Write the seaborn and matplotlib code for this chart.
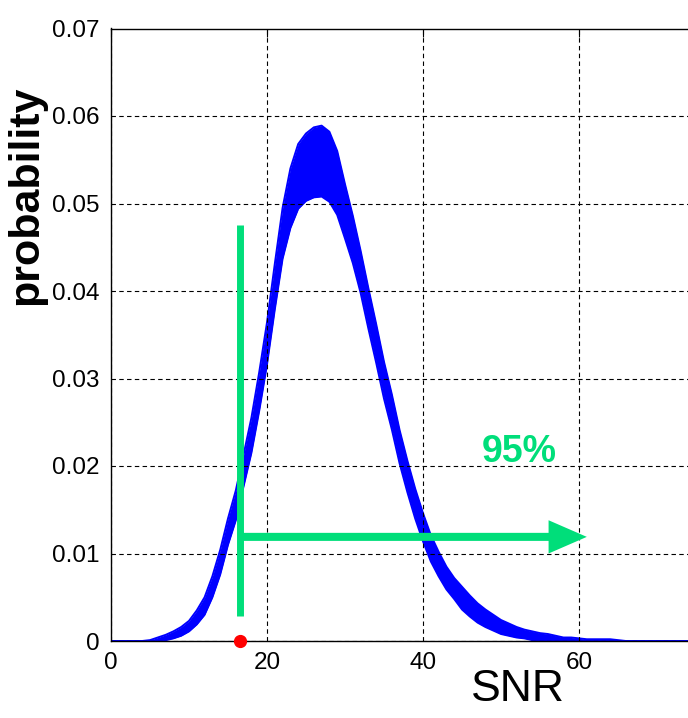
import matplotlib
matplotlib.use("Agg")
import matplotlib.pyplot as plt
from matplotlib import font_manager as fm
import seaborn as sns

# SNR grid and the lower / upper envelope of the noisy probability curve
snr = [0, 4, 5, 6, 7, 8, 9, 10, 11, 12, 13, 14, 15, 16, 17, 18, 19, 20,
       21, 22, 23, 24, 25, 26, 27, 28, 29, 30, 31, 32, 33, 34, 35, 36, 37,
       38, 39, 40, 41, 42, 43, 44, 45, 46, 47, 48, 49, 50, 51, 52, 53, 54,
       55, 56, 57, 58, 59, 60, 61, 62, 63, 64, 65, 66, 80]
prob_low = [0, 0, 0, 0.0000, 0.0001, 0.0003, 0.0006, 0.0011, 0.0019, 0.0030,
            0.0050, 0.0076, 0.0110, 0.0138, 0.0177, 0.0215, 0.0263, 0.0316,
            0.0379, 0.0437, 0.0472, 0.0494, 0.0503, 0.0507, 0.0508, 0.0502,
            0.0487, 0.0460, 0.0432, 0.0398, 0.0357, 0.0318, 0.0277, 0.0242,
            0.0203, 0.0170, 0.0140, 0.0114, 0.0091, 0.0074, 0.0059, 0.0048,
            0.0036, 0.0028, 0.0021, 0.0016, 0.0012, 0.0008, 0.0006, 0.0004,
            0.0003, 0.0001, 0.0001, 0, 0, 0, 0, 0, 0, 0, 0, 0, 0, 0, 0]
prob_high = [0, 0, 0.0001, 0.0004, 0.0007, 0.0011, 0.0016, 0.0023, 0.0035,
             0.0050, 0.0074, 0.0104, 0.0140, 0.0172, 0.0213, 0.0255, 0.0307,
             0.0364, 0.0431, 0.0495, 0.0540, 0.0568, 0.0580, 0.0587, 0.0589,
             0.0582, 0.0560, 0.0522, 0.0486, 0.0446, 0.0403, 0.0362, 0.0319,
             0.0282, 0.0241, 0.0206, 0.0174, 0.0146, 0.0121, 0.0102, 0.0085,
             0.0072, 0.0062, 0.0052, 0.0043, 0.0036, 0.0030, 0.0024, 0.0020,
             0.0016, 0.0013, 0.0011, 0.0009, 0.0008, 0.0006, 0.0004, 0.0004,
             0.0003, 0.0002, 0.0002, 0.0002, 0.0002, 0.0001, 0, 0]

# 95 % threshold and annotation
threshold_snr = 16.5
marker_top = 0.0475
marker_bottom = 0.0029
arrow_level = 0.0119
arrow_end = 61.0
label_text = "95%"

x_ticks = [0, 20, 40, 60, 80]
x_tick_labels = ["0", "20", "40", "60", ""]
y_ticks = [0, 0.01, 0.02, 0.03, 0.04, 0.05, 0.06, 0.07]
y_tick_labels = ["0", "0.01", "0.02", "0.03", "0.04", "0.05", "0.06", "0.07"]

sns.set_style("white")
names = {f.name for f in fm.fontManager.ttflist}
narrow = "Liberation Sans Narrow" if "Liberation Sans Narrow" in names else "Liberation Sans"
plt.rcParams["font.family"] = [narrow, "Liberation Sans", "DejaVu Sans"]

GREEN = "#00DE7A"
BLUE = "#0000FF"

fig = plt.figure(figsize=(6.88, 7.18), dpi=100)
ax = fig.add_axes([111 / 688, 77 / 718, 624 / 688, 612.5 / 718])

ax.fill_between(snr, prob_low, prob_high, color=BLUE, linewidth=0, zorder=2)
sns.lineplot(x=snr, y=prob_high, ax=ax, color=BLUE, linewidth=1.4, zorder=2)
sns.lineplot(x=snr, y=prob_low, ax=ax, color=BLUE, linewidth=1.4, zorder=2)

ax.set_xlim(0, 80)
ax.set_ylim(0, 0.07)
ax.set_xticks(x_ticks)
ax.set_xticklabels(x_tick_labels)
ax.set_yticks(y_ticks)
ax.set_yticklabels(y_tick_labels)

ax.grid(True, color="black", linestyle=(0, (4, 3)), linewidth=0.8)
ax.set_axisbelow(False)
ax.tick_params(direction="in", length=6, width=0.8, top=True, right=True,
               labelsize=17.5, pad=8, colors="black")
for s in ax.spines.values():
    s.set_color("black")
    s.set_linewidth(1.0)

# threshold marker, arrow and label
ax.plot([threshold_snr, threshold_snr], [marker_bottom, marker_top],
        color=GREEN, linewidth=5.0, solid_capstyle="butt", zorder=4)
ax.arrow(threshold_snr + 0.4, arrow_level, arrow_end - threshold_snr - 0.4, 0,
         width=0.00092, head_width=0.0038, head_length=4.9,
         length_includes_head=True, color=GREEN, linewidth=0, zorder=4)
ax.plot([threshold_snr], [0], "o", color="red", markersize=8.5,
        clip_on=False, zorder=6)
ax.text(52.4, 0.0216, label_text, color=GREEN, fontsize=27, fontweight="bold",
        ha="center", va="center", zorder=5)

ax.set_xlabel("SNR", fontsize=32, color="black")
ax.xaxis.set_label_coords(0.652, -0.045)
ax.set_ylabel("probability", fontsize=31, fontweight="bold", color="black",
              family=["Liberation Sans", "DejaVu Sans"])
ax.yaxis.set_label_coords(-0.104, 0.728)

fig.savefig("out.png", dpi=100)
